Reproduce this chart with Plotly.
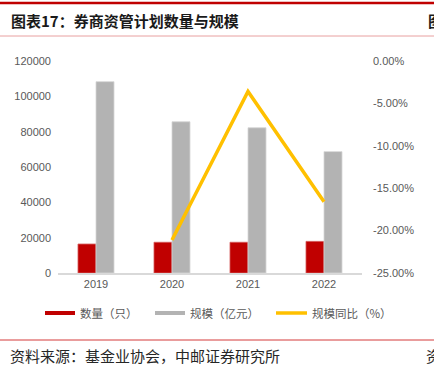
import plotly.graph_objects as go

years = ["2019", "2020", "2021", "2022"]
count_vals = [16400, 17400, 17400, 17900]          # 数量（只）
scale_vals = [108300, 85600, 82200, 68700]          # 规模（亿元）
yoy_vals = [None, -0.211, -0.036, -0.166]           # 规模同比（%）
series_names = ["数量（只）", "规模（亿元）", "规模同比（%）"]
left_ticks = [0, 20000, 40000, 60000, 80000, 100000, 120000]
right_tickvals = [0, -0.05, -0.10, -0.15, -0.20, -0.25]
right_ticktext = ["0.00%", "-5.00%", "-10.00%", "-15.00%", "-20.00%", "-25.00%"]
title_text = "图表17：券商资管计划数量与规模"
source_text = "资料来源：基金业协会，中邮证券研究所"

RED = "#C00000"
GRAY = "#B3B3B3"
YEL = "#FFC000"
TICK = "#595959"

W, H = 434, 369
L, R, T, B = 58, 362, 61, 273

def px(x):
    return (x - L) / (R - L)

def py(y):
    return (B - y) / (B - T)

fig = go.Figure()
fig.add_trace(go.Bar(x=years, y=count_vals, name=series_names[0], marker=dict(color=RED, line=dict(color="#D45A5A", width=0.8))))
fig.add_trace(go.Bar(x=years, y=scale_vals, name=series_names[1], marker=dict(color=GRAY, line=dict(color="#D6D6D6", width=0.8))))
fig.add_trace(go.Scatter(x=years, y=yoy_vals, name=series_names[2], yaxis="y2", mode="lines",
                         line=dict(color=YEL, width=3.5), connectgaps=False))

font_cn = "Noto Sans CJK SC"
shapes = [
    dict(type="line", xref="paper", yref="paper", x0=px(0), x1=px(W), y0=py(3), y1=py(3), line=dict(color=RED, width=2.5)),
    dict(type="line", xref="paper", yref="paper", x0=px(0), x1=px(W), y0=py(36), y1=py(36), line=dict(color="#E8A0A0", width=1)),
    dict(type="line", xref="paper", yref="paper", x0=px(0), x1=px(W), y0=py(340), y1=py(340), line=dict(color="#D43A3A", width=1)),
    # legend samples
    dict(type="rect", xref="paper", yref="paper", x0=px(45), x1=px(75), y0=py(315), y1=py(311), fillcolor=RED, line=dict(width=0)),
    dict(type="rect", xref="paper", yref="paper", x0=px(155), x1=px(185), y0=py(315), y1=py(311), fillcolor=GRAY, line=dict(width=0)),
    dict(type="line", xref="paper", yref="paper", x0=px(276), x1=px(307), y0=py(313), y1=py(313), line=dict(color=YEL, width=3.5)),
]
annotations = [
    dict(text=f"<b>{title_text}</b>", xref="paper", yref="paper", x=px(9), y=py(20), xanchor="left", yanchor="middle",
         showarrow=False, font=dict(family=font_cn, size=15, color="#1A1A1A")),
    dict(text="<b>图</b>", xref="paper", yref="paper", x=px(426), y=py(20), xanchor="left", yanchor="middle",
         showarrow=False, font=dict(family=font_cn, size=15, color="#1A1A1A")),
    dict(text=series_names[0], xref="paper", yref="paper", x=px(78), y=py(313), xanchor="left", yanchor="middle",
         showarrow=False, font=dict(family=font_cn, size=11.5, color=TICK)),
    dict(text=series_names[1], xref="paper", yref="paper", x=px(188), y=py(313), xanchor="left", yanchor="middle",
         showarrow=False, font=dict(family=font_cn, size=11.5, color=TICK)),
    dict(text=series_names[2], xref="paper", yref="paper", x=px(310), y=py(313), xanchor="left", yanchor="middle",
         showarrow=False, font=dict(family=font_cn, size=11.5, color=TICK)),
    dict(text=source_text, xref="paper", yref="paper", x=px(8), y=py(355), xanchor="left", yanchor="middle",
         showarrow=False, font=dict(family=font_cn, size=15, color="#262626")),
    dict(text="资", xref="paper", yref="paper", x=px(424), y=py(355), xanchor="left", yanchor="middle",
         showarrow=False, font=dict(family=font_cn, size=15, color="#262626")),
]

fig.update_layout(
    width=W, height=H,
    margin=dict(l=L, r=W - R, t=T, b=H - B, pad=0),
    paper_bgcolor="white", plot_bgcolor="white",
    barmode="group", bargap=0.526, bargroupgap=0,
    showlegend=False,
    font=dict(family="Liberation Sans, Arial", size=11, color=TICK),
    xaxis=dict(type="category", showline=True, linecolor="#D9D9D9", linewidth=1.5, ticks="", showgrid=False,
               tickfont=dict(size=11, color=TICK)),
    yaxis=dict(range=[0, 120000], tickvals=left_ticks, tickformat="d", showgrid=False, zeroline=False, ticks="",
               tickfont=dict(size=11, color=TICK), ticklabelstandoff=6),
    yaxis2=dict(range=[-0.25, 0], overlaying="y", side="right", tickvals=right_tickvals, ticktext=right_ticktext,
                showgrid=False, zeroline=False, ticks="", tickfont=dict(size=11, color=TICK), ticklabelstandoff=10),
    shapes=shapes, annotations=annotations,
)

fig.write_html("out.html", config={"displayModeBar": False},
               post_script="document.body.style.margin='0px';document.body.style.overflow='hidden';")
